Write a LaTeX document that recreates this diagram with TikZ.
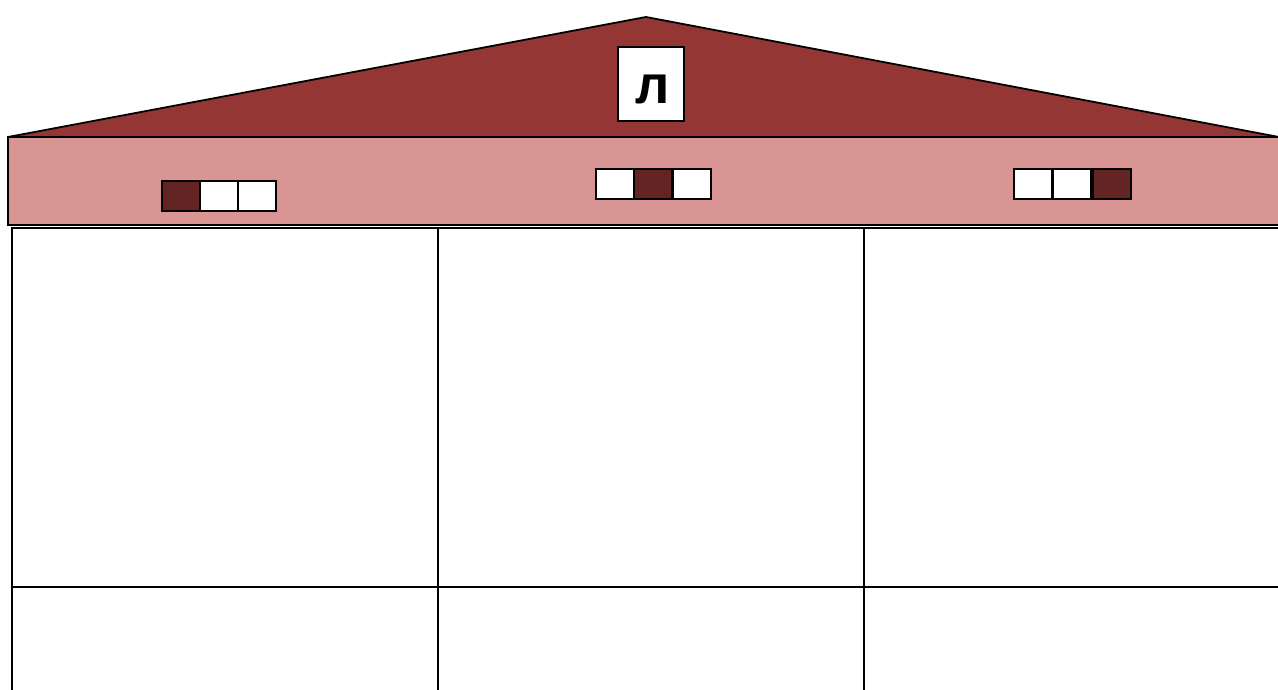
\documentclass[tikz,border=0pt]{standalone}
\usepackage{fontspec}
\setsansfont{Liberation Sans}
\usetikzlibrary{positioning}
\definecolor{roofred}{HTML}{943634}
\definecolor{bandpink}{HTML}{D99594}
\definecolor{panedark}{HTML}{632423}

\begin{document}
\begin{tikzpicture}[x=1pt, y=-1pt, line width=1.8pt,
  pane/.style={draw, minimum width=38pt, minimum height=30pt,
               inner sep=0pt, outer sep=0pt, anchor=north west}]
\useasboundingbox (0,0) rectangle (1278,689);
% roof and front band
\filldraw[fill=roofred] (8,137) -- (646,17) -- (1300,141) -- cycle;
\filldraw[fill=bandpink] (8,137) rectangle (1300,225);
% sign
\node[draw, fill=white, minimum width=66pt, minimum height=74pt, inner sep=0pt] (sign) at (651,84) {};
\node[anchor=base, inner sep=0pt, font=\sffamily\bfseries\fontsize{54}{54}\selectfont]
  (letter) at (653,103) {л};
% windows in the band
\foreach \n/\x/\y/\col in {
  a1/162/181/panedark, a2/200/181/white, a3/238/181/white,
  b1/596/169/white, b2/634/169/panedark, b3/673/169/white,
  c1/1014/169/white, c2/1053/169/white, c3/1093/169/panedark%
}{
  \node[pane, fill=\col] (\n) at (\x,\y) {};
}
% grid below
\draw (12,228) rectangle (1300,700);
\draw (438,228) -- (438,700);
\draw (864,228) -- (864,700);
\draw (12,587) -- (1300,587);
\end{tikzpicture}
\end{document}
